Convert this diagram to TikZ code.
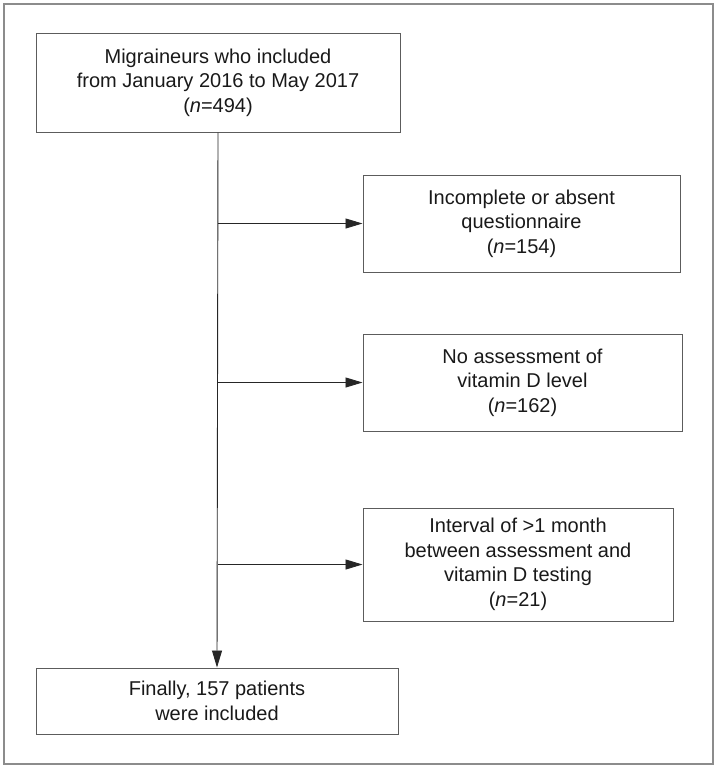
\documentclass[tikz,border=0pt]{standalone}
\usepackage{fontspec}
\setmainfont{Liberation Sans}
\usetikzlibrary{arrows.meta,positioning}
\definecolor{cL}{rgb}{0.36,0.36,0.36}
\definecolor{cA}{rgb}{0.15,0.15,0.15}
\definecolor{cF}{rgb}{0.55,0.55,0.55}
\definecolor{cT}{rgb}{0.1,0.1,0.1}
\tikzset{mybox/.style={
  shape=rectangle,
  draw=cL,
  line width=1pt,
  align=center,
  inner sep=0pt,
  text = cT,
  font=\fontsize{20}{24.5}\selectfont,
  }
}
\tikzset{myarrow/.style={
  draw=cA,
  line width=0.9pt,
  -{Triangle[length=17pt,width=10pt]},
  }
}

\begin{document}
\begin{tikzpicture}[x=1pt,y=-1pt]
  \draw[cF, line width=1.2pt] (4,4) rectangle (713,764);
  \useasboundingbox (0,0) rectangle (718,769);

  \node [mybox, minimum width=364pt, minimum height=99pt] (m1) at (218,82.5)
    {Migraineurs who included\\from January 2016 to May 2017\\(\textit{n}=494)};
  \node [mybox, minimum width=317pt, minimum height=97pt] (e1) at (521.5,223.5)
    {Incomplete or absent\\questionnaire\\(\textit{n}=154)};
  \node [mybox, minimum width=319pt, minimum height=97pt] (e2) at (522.5,382.5)
    {No assessment of\\vitamin D level\\(\textit{n}=162)};
  \node [mybox, minimum width=310pt, minimum height=113pt] (e3) at (518,564.5)
    {Interval of \textgreater1 month\\between assessment and\\vitamin D testing\\(\textit{n}=21)};
  \node [mybox, minimum width=362pt, minimum height=66pt] (m2) at (217,701)
    {Finally, 157 patients\\were included};

  \coordinate (b1) at (m1.south |- e1.west);
  \coordinate (b2) at (m1.south |- e2.west);
  \coordinate (b3) at (m1.south |- e3.west);

  \draw [myarrow] (m1.south) -- (m2.north);
  \draw [myarrow] (b1) -- (e1.west);
  \draw [myarrow] (b2) -- (e2.west);
  \draw [myarrow] (b3) -- (e3.west);
\end{tikzpicture}
\end{document}
